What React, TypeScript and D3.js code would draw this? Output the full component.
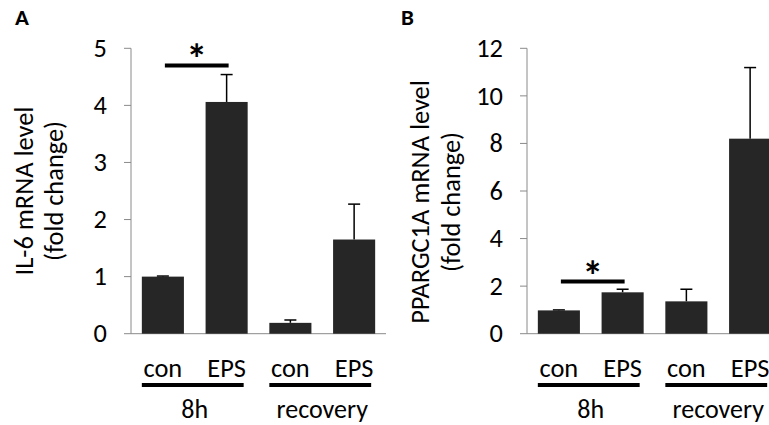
import React from "react";
import * as d3 from "d3";

const categories = ["con", "EPS", "con", "EPS"];
const groups = ["8h", "recovery"];

const il6Values = [1.0, 4.06, 0.19, 1.65];
const il6Errors = [0.01, 0.48, 0.05, 0.62];
const il6Ticks = [0, 1, 2, 3, 4, 5];

const pgcValues = [0.98, 1.74, 1.36, 8.2];
const pgcErrors = [0.02, 0.13, 0.51, 2.99];
const pgcTicks = [0, 2, 4, 6, 8, 10, 12];

const FONT = "Carlito, Calibri, Lato, sans-serif";
const BAR = "#262626";
const AXIS = "#8a8a8a";

type PanelProps = {
  letter: string;
  letterX: number;
  x0: number;
  yMax: number;
  ticks: number[];
  values: number[];
  errors: number[];
  titleLines: string[];
  titleX: number[];
  titleY: number;
  sigY: number;
};

function Panel(p: PanelProps) {
  const y = d3.scaleLinear().domain([0, p.yMax]).range([333.7, 48.3]);
  const x = d3
    .scaleBand<number>()
    .domain(d3.range(categories.length))
    .range([p.x0, p.x0 + 255])
    .paddingInner(0.34)
    .paddingOuter(0.17);
  const bw = x.bandwidth();
  const cx = (i: number) => (x(i) as number) + bw / 2;
  return (
    <g>
      <text x={p.letterX} y={25} fontFamily={FONT} fontWeight="bold" fontSize={23} fill="#000">
        {p.letter}
      </text>
      {p.titleLines.map((t, i) => (
        <text
          key={i}
          transform={`translate(${p.titleX[i]},${p.titleY}) rotate(-90)`}
          textAnchor="middle"
          fontFamily={FONT}
          fontSize={26.4}
          fill="#000"
        >
          {t}
        </text>
      ))}
      {/* axes */}
      <line x1={p.x0} x2={p.x0} y1={y(p.yMax)} y2={y(0)} stroke={AXIS} strokeWidth={1} />
      <line x1={p.x0} x2={p.x0 + 255} y1={y(0)} y2={y(0)} stroke={AXIS} strokeWidth={1} />
      {p.ticks.map((t) => (
        <g key={t}>
          <line x1={p.x0 - 7} x2={p.x0} y1={y(t)} y2={y(t)} stroke={AXIS} strokeWidth={1} />
          <text
            x={p.x0 - 24}
            y={y(t)}
            dy="0.33em"
            textAnchor="end"
            fontFamily={FONT}
            fontSize={26.4}
            fill="#000"
          >
            {t}
          </text>
        </g>
      ))}
      {/* bars */}
      {p.values.map((v, i) => (
        <g key={i}>
          <line x1={cx(i)} x2={cx(i)} y1={y(v)} y2={y(v + p.errors[i])} stroke="#000" strokeWidth={1.5} />
          <line x1={cx(i) - 6} x2={cx(i) + 6} y1={y(v + p.errors[i])} y2={y(v + p.errors[i])} stroke="#000" strokeWidth={1.5} />
          <rect x={x(i)} y={y(v)} width={bw} height={y(0) - y(v)} fill={BAR} />
        </g>
      ))}
      {/* significance */}
      <line x1={cx(0) + 2} x2={cx(1) + 2} y1={y(p.sigY)} y2={y(p.sigY)} stroke="#000" strokeWidth={4} />
      <text
        x={(cx(0) + cx(1)) / 2 + 2}
        y={y(p.sigY) + 9}
        textAnchor="middle"
        fontFamily={FONT}
        fontWeight="bold"
        fontSize={42}
        fill="#000"
      >
        *
      </text>
      {/* category labels */}
      {categories.map((c, i) => (
        <text key={i} x={cx(i)} y={377} textAnchor="middle" fontFamily={FONT} fontSize={26.4} fill="#000">
          {c}
        </text>
      ))}
      {groups.map((g, gi) => {
        const a = x(gi * 2) as number;
        const b = (x(gi * 2 + 1) as number) + bw - 4;
        return (
          <g key={g}>
            <line x1={a} x2={b} y1={385} y2={385} stroke="#000" strokeWidth={4} />
            <text x={(cx(gi * 2) + cx(gi * 2 + 1)) / 2} y={418} textAnchor="middle" fontFamily={FONT} fontSize={26} fill="#000">
              {g}
            </text>
          </g>
        );
      })}
    </g>
  );
}

export default function App() {
  return (
    <svg
      width={769}
      height={425}
      style={{ position: "absolute", left: 0, top: 0, background: "#fff" }}
    >
      <rect width={769} height={425} fill="#fff" />
      <Panel
        letter="A"
        letterX={15}
        x0={131}
        yMax={5}
        ticks={il6Ticks}
        values={il6Values}
        errors={il6Errors}
        titleLines={["IL-6 mRNA level", "(fold change)"]}
        titleX={[33, 63]}
        titleY={191}
        sigY={4.7}
      />
      <Panel
        letter="B"
        letterX={401}
        x0={527}
        yMax={12}
        ticks={pgcTicks}
        values={pgcValues}
        errors={pgcErrors}
        titleLines={["PPARGC1A mRNA level", "(fold change)"]}
        titleX={[429, 460]}
        titleY={202}
        sigY={2.19}
      />
    </svg>
  );
}
